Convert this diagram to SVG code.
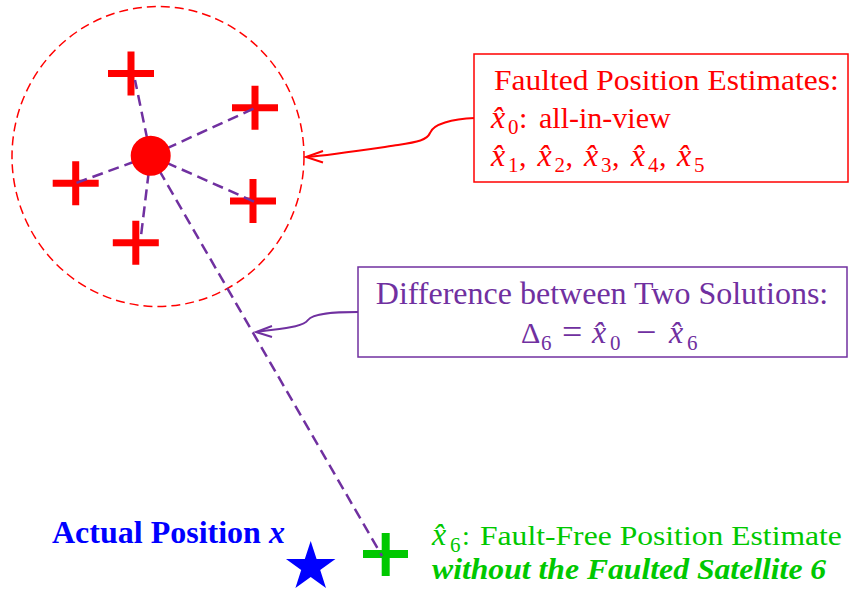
<svg xmlns="http://www.w3.org/2000/svg" width="850" height="594" viewBox="0 0 850 594">
<style>
  text { font-family: "Liberation Serif", "Times New Roman", serif; }
  .red { fill: #FF0000; }
  .pur { fill: #7030A0; }
  .grn { fill: #00C800; }
  .blu { fill: #0000FF; }
  .mx { font-style: italic; font-size: 32px; }
  .sub { font-size: 21px; font-style: normal; }
  .redcross { stroke: #FF0000; stroke-width: 7; fill: none; }
  .dash { stroke: #7030A0; stroke-width: 2.5; stroke-dasharray: 11 6; fill: none; }
  .callout { fill: none; stroke-width: 2; }
</style>
<defs>
  <path id="cross" d="M-23,0 H23 M0,-22 V22"/>
</defs>

<g id="faulted-cluster">
  <ellipse cx="158" cy="156.5" rx="146" ry="150" fill="none" stroke="#FF0000" stroke-width="1.5" stroke-dasharray="9 5"/>
  <use href="#cross" class="redcross" transform="translate(131,73.5)"/>
  <use href="#cross" class="redcross" transform="translate(255,107.7)"/>
  <use href="#cross" class="redcross" transform="translate(75.7,183.3)"/>
  <use href="#cross" class="redcross" transform="translate(253,201)"/>
  <use href="#cross" class="redcross" transform="translate(135.8,242.7)"/>
</g>

<g id="fault-free">
  <path d="M363,554 H408 M385.7,533 V576" stroke="#00C800" stroke-width="8" fill="none"/>
  <text class="grn" x="432" y="545" font-size="28"><tspan class="mx" font-size="29">x̂</tspan><tspan class="sub" x="450" y="552" font-size="20">6</tspan><tspan x="462" y="545">:</tspan></text>
  <text class="grn" transform="translate(480,545) scale(1.13,1)" x="0" y="0" font-size="28">Fault-Free Position Estimate</text>
  <text class="grn" transform="translate(432,579) scale(1.056,1)" x="0" y="0" font-size="30" font-weight="bold" font-style="italic">without the Faulted Satellite 6</text>
</g>

<g id="connectors">
  <line class="dash" x1="150.7" y1="155.7" x2="135" y2="80"/>
  <line class="dash" x1="150.7" y1="155.7" x2="255" y2="108"/>
  <line class="dash" x1="150.7" y1="155.7" x2="76" y2="183"/>
  <line class="dash" x1="150.7" y1="155.7" x2="255" y2="202"/>
  <line class="dash" x1="150.7" y1="155.7" x2="141" y2="236"/>
  <line class="dash" x1="150.7" y1="155.7" x2="382" y2="556"/>
  <path class="callout" stroke="#FF0000" d="M475,118 C452,119 433,124 430,133 C427,140 418,142 398,145 C370,149 330,155 307,157"/>
  <path class="callout" stroke="#FF0000" d="M323,151 L306,157 L323,162.5"/>
  <path class="callout" stroke="#7030A0" d="M358,312 C334,312 313,313 308,320 C303,327 285,328 257,332"/>
  <path class="callout" stroke="#7030A0" d="M272,326 L256,332 L272,337"/>
</g>

<g id="faulted-center">
  <circle cx="150.7" cy="155.7" r="20" fill="#FF0000"/>
</g>

<g id="faulted-box">
  <rect x="474" y="54" width="374" height="128" fill="#FFFFFF" stroke="#FF0000" stroke-width="1.5"/>
  <text class="red" transform="translate(494,90) scale(1.05,1)" x="0" y="0" font-size="30">Faulted Position Estimates:</text>
  <text class="red" x="491" y="128" font-size="30"><tspan class="mx">x̂</tspan><tspan class="sub" x="508" y="134">0</tspan><tspan x="519" y="128">:</tspan><tspan x="539" y="128">all-in-view</tspan></text>
  <text class="red" x="491" y="166" font-size="30"><tspan class="mx">x̂</tspan><tspan class="sub" x="508" y="172">1</tspan><tspan x="519" y="166">,</tspan><tspan class="mx" x="537.5" y="166">x̂</tspan><tspan class="sub" x="554.5" y="172">2</tspan><tspan x="565.5" y="166">,</tspan><tspan class="mx" x="584" y="166">x̂</tspan><tspan class="sub" x="601" y="172">3</tspan><tspan x="612" y="166">,</tspan><tspan class="mx" x="631" y="166">x̂</tspan><tspan class="sub" x="648" y="172">4</tspan><tspan x="659" y="166">,</tspan><tspan class="mx" x="677" y="166">x̂</tspan><tspan class="sub" x="694" y="172">5</tspan></text>
</g>

<g id="difference-box">
  <rect x="358" y="267" width="489" height="90" fill="#FFFFFF" stroke="#7030A0" stroke-width="1.5"/>
  <text class="pur" x="602" y="304" font-size="32" text-anchor="middle">Difference between Two Solutions:</text>
  <text class="pur" x="521" y="343" font-size="30"><tspan>Δ</tspan><tspan class="sub" x="541" y="350">6</tspan><tspan x="562" y="344" font-size="36">=</tspan><tspan class="mx" x="592" y="343">x̂</tspan><tspan class="sub" x="610" y="350">0</tspan><tspan x="636" y="344" font-size="36">−</tspan><tspan class="mx" x="669" y="343">x̂</tspan><tspan class="sub" x="687" y="350">6</tspan></text>
</g>

<g id="actual-position">
  <polygon class="blu" transform="translate(310.7,567)" points="0,-26 5.88,-8.09 24.73,-8.03 9.51,3.09 15.28,21.03 0,10 -15.28,21.03 -9.51,3.09 -24.73,-8.03 -5.88,-8.09"/>
  <text class="blu" x="52" y="543" font-size="32" font-weight="bold">Actual Position <tspan font-style="italic">x</tspan></text>
</g>
</svg>
